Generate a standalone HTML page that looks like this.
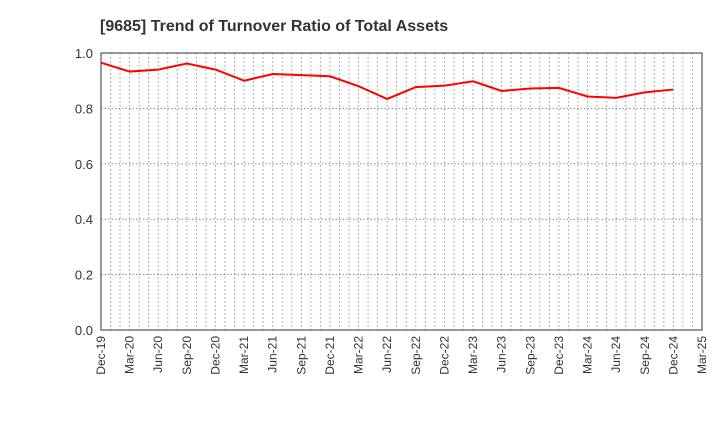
<!DOCTYPE html>
<html><head><meta charset="utf-8"><style>
body{margin:0;background:#fff;font-family:"Liberation Sans",sans-serif}
</style></head><body>
<svg id="c" width="720" height="440" xmlns="http://www.w3.org/2000/svg">
<text x="100" y="31" font-size="16" font-weight="bold" fill="#333">[9685]  Trend of Turnover Ratio of Total Assets</text>
<g id="grid"></g>
<g id="axes"></g>
<g id="series"></g>
</svg>
<script>
const categories=["Dec-19","Mar-20","Jun-20","Sep-20","Dec-20","Mar-21","Jun-21","Sep-21","Dec-21","Mar-22","Jun-22","Sep-22","Dec-22","Mar-23","Jun-23","Sep-23","Dec-23","Mar-24","Jun-24","Sep-24","Dec-24","Mar-25"];
const values=[0.965,0.933,0.94,0.962,0.94,0.90,0.924,0.92,0.916,0.88,0.834,0.877,0.882,0.898,0.863,0.872,0.874,0.843,0.838,0.858,0.868];
const yTicks=[0,0.2,0.4,0.6,0.8,1.0];
const yTickLabels=["0.0","0.2","0.4","0.6","0.8","1.0"];
const L=101,R=702,T=53,B=330,NS="http://www.w3.org/2000/svg";
const xs=i=>L+i*(R-L)/(categories.length-1);
const ys=v=>B-v*(B-T);
function mk(t,a,p){const e=document.createElementNS(NS,t);for(const k in a)e.setAttribute(k,a[k]);p.appendChild(e);return e;}
const g=document.getElementById('grid'),ax=document.getElementById('axes'),s=document.getElementById('series');
const nm=(categories.length-1)*3;
for(let m=1;m<nm;m++){const x=L+m*(R-L)/nm;const l=mk('line',{x1:x,x2:x,y1:T,y2:B,stroke:'#999','stroke-dasharray':'1.5,2.5','stroke-width':1},g);

}
yTicks.forEach((v,i)=>{const y=ys(v);
if(v>0&&v<1){const l=mk('line',{x1:L,x2:R,y1:y,y2:y,stroke:'#888','stroke-dasharray':'1.5,2','stroke-width':1},g);

}
const t=mk('text',{x:L-8,y:y+5,'text-anchor':'end','font-size':13,fill:'#333'},ax);t.textContent=yTickLabels[i];

});
const f=mk('rect',{x:L,y:T,width:R-L,height:B-T,fill:'none',stroke:'#333','stroke-width':1},ax);


categories.forEach((c,i)=>{const x=xs(i);const t=mk('text',{transform:`translate(${x+4},${B+6}) rotate(-90)`,'text-anchor':'end','font-size':12,fill:'#333'},ax);t.textContent=c;

});
const p=mk('polyline',{points:values.map((v,i)=>xs(i)+','+ys(v)).join(' '),fill:'none',stroke:'#f00','stroke-width':2},s);


</script>
</body></html>
